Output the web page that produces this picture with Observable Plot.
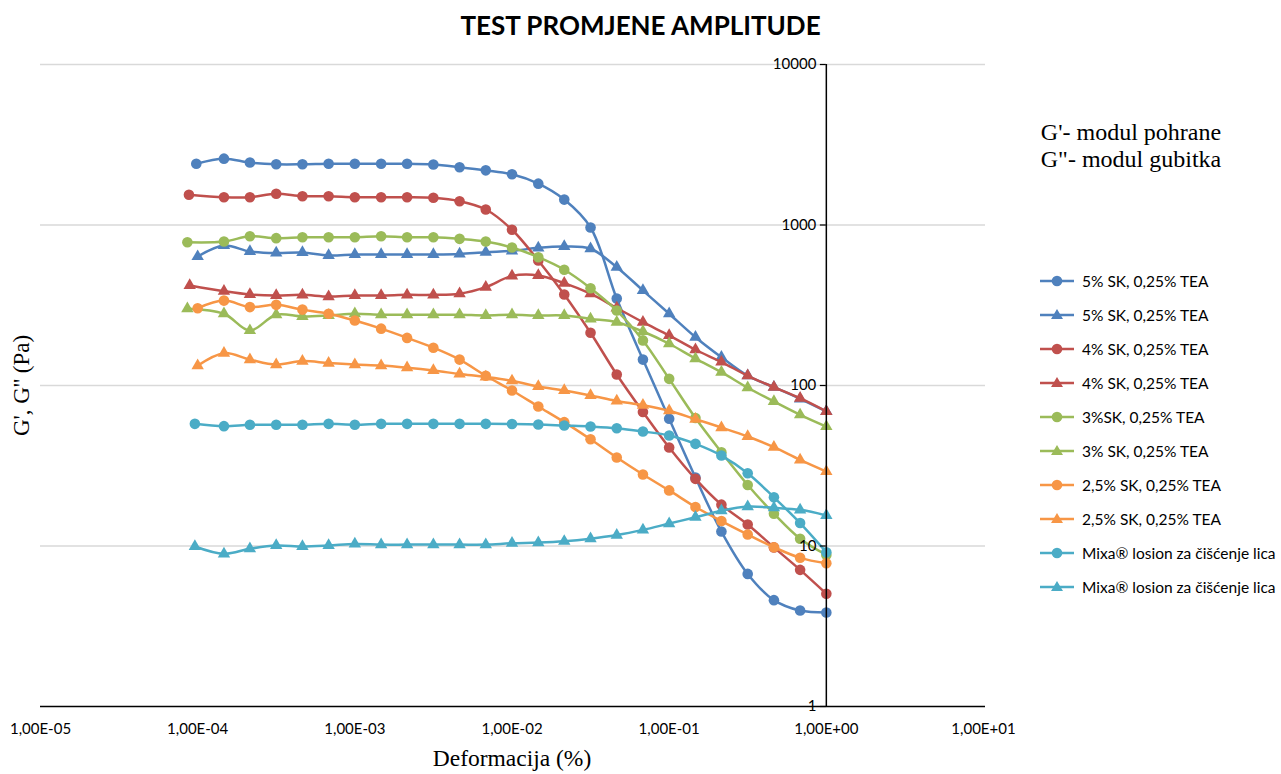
<!DOCTYPE html>
<html>
<head>
<meta charset="utf-8">
<script src="https://cdn.jsdelivr.net/npm/d3@7"></script>
<script src="https://cdn.jsdelivr.net/npm/@observablehq/plot@0.6"></script>
<style>
  body { margin: 0; background: #fff; }
  #wrap { position: relative; width: 1281px; height: 774px; overflow: hidden; background: #fff; }
  #title { position: absolute; left: 0; top: 0; width: 1281px; height: 50px; line-height: 50px; text-align: center;
           font-family: Lato, sans-serif; font-weight: bold; font-size: 26px; color: #000; }
  #chart { position: absolute; left: 0; top: 50px; }
  .note { position: absolute; left: 1011px; width: 240px; text-align: center; font-family: "Liberation Serif", serif; font-size: 24px; color: #000; line-height: 27px; }
  .leg { position: absolute; left: 1040px; height: 20px; line-height: 20px; font-family: Lato, sans-serif; font-size: 15.5px; color: #000; white-space: nowrap; display: flex; align-items: center; }
  .leg svg { margin-right: 8px; }
</style>
</head>
<body>
<div id="wrap">
  <div id="title"></div>
  <div id="chart"></div>
</div>
<script>
// ---------- data ----------
const titleText = "TEST PROMJENE AMPLITUDE";
const xLabel = "Deformacija (%)";
const yLabel = "G', G'' (Pa)";
const notes = ["G'- modul pohrane", "G\"- modul gubitka"];

const xTicks = [1e-5, 1e-4, 1e-3, 1e-2, 1e-1, 1, 10];
const yTicks = [1, 10, 100, 1000, 10000];

const strain = [0.0001, 0.000147, 0.000215, 0.000316, 0.000464, 0.000681, 0.001, 0.00147, 0.00215, 0.00316,
                0.00464, 0.00681, 0.01, 0.0147, 0.0215, 0.0316, 0.0464, 0.0681, 0.1, 0.147,
                0.215, 0.316, 0.464, 0.681, 1];
const firstStrain = [0.000098, 0.0001, 0.000088, 0.000089, 0.000086, 0.000086, 0.0001, 0.0001, 0.000096, 0.000096];

const seriesNames = ["5% SK, 0,25% TEA", "5% SK, 0,25% TEA", "4% SK, 0,25% TEA", "4% SK, 0,25% TEA",
                     "3%SK, 0,25% TEA", "3% SK, 0,25% TEA", "2,5% SK, 0,25% TEA", "2,5% SK, 0,25% TEA",
                     "Mixa® losion za čišćenje lica", "Mixa® losion za čišćenje lica"];
const seriesColors = ["#4F81BD", "#4F81BD", "#C0504D", "#C0504D", "#9BBB59", "#9BBB59", "#F79646", "#F79646", "#4BACC6", "#4BACC6"];
const seriesSymbols = ["circle", "triangle", "circle", "triangle", "circle", "triangle", "circle", "triangle", "circle", "triangle"];

const sk5G1 = [2410, 2590, 2450, 2390, 2390, 2410, 2410, 2410, 2410, 2380, 2290, 2190, 2070, 1810, 1440, 965, 348, 145, 62, 26.7, 12.3, 6.7, 4.6, 3.96, 3.85];
const sk5G2 = [636, 745, 684, 669, 674, 646, 655, 655, 655, 655, 660, 677, 689, 721, 735, 711, 546, 391, 280, 200, 150, 115, 97.6, 82.6, 68.9];
const sk4G1 = [1543, 1490, 1490, 1565, 1511, 1511, 1490, 1490, 1490, 1477, 1407, 1249, 934, 601, 369, 213, 117, 68.4, 41.1, 26.2, 18.1, 13.6, 9.8, 7.1, 5.04];
const sk4G2 = [420, 387, 369, 364, 367, 358, 364, 364, 367, 367, 373, 410, 481, 485, 434, 373, 304, 248, 205, 167, 140, 115, 97.6, 83.3, 68.9];
const sk3G1 = [781, 789, 851, 828, 839, 839, 839, 851, 839, 839, 820, 789, 724, 630, 526, 404, 293, 191, 110, 62.7, 38.4, 24.0, 15.9, 11.1, 8.8];
const sk3G2 = [301, 280, 220, 276, 269, 273, 280, 276, 276, 276, 276, 273, 276, 273, 273, 260, 248, 217, 182, 147, 121, 96.8, 79.5, 65.7, 55.5];
const sk25G1 = [303, 338, 308, 318, 297, 280, 254, 226, 198, 172, 145, 115, 93.1, 74.0, 59.1, 46.2, 35.6, 27.9, 22.2, 17.5, 14.3, 11.8, 9.83, 8.44, 7.81];
const sk25G2 = [133, 159, 145, 135, 142, 138, 135, 133, 129, 124, 118, 113, 107, 98.6, 93.1, 86.6, 80.1, 75.4, 69.6, 61.7, 54.7, 48.1, 41.3, 34.4, 29.1];
const mixaG1 = [57.7, 55.8, 56.9, 56.9, 56.9, 57.7, 56.9, 57.7, 57.7, 57.7, 57.7, 57.7, 57.5, 57.1, 56.3, 55.5, 54.2, 51.7, 48.8, 43.3, 36.6, 28.4, 20.1, 13.9, 9.15];
const mixaG2 = [9.93, 8.94, 9.61, 10.07, 9.93, 10.07, 10.3, 10.2, 10.2, 10.2, 10.2, 10.2, 10.4, 10.5, 10.7, 11.1, 11.7, 12.6, 13.8, 15.1, 16.6, 17.6, 17.3, 16.8, 15.5];

const seriesValues = [sk5G1, sk5G2, sk4G1, sk4G2, sk3G1, sk3G2, sk25G1, sk25G2, mixaG1, mixaG2];

// ---------- build ----------
document.getElementById("title").textContent = titleText;

const fmtX = d => {
  const e = Math.round(Math.log10(d));
  return "1,00E" + (e < 0 ? "-" : "+") + String(Math.abs(e)).padStart(2, "0");
};

const seriesMarks = [];
seriesValues.forEach((vals, s) => {
  const rows = vals.map((v, i) => ({x: i === 0 ? firstStrain[s] : strain[i], y: v}));
  seriesMarks.push(Plot.line(rows, {x: "x", y: "y", stroke: seriesColors[s], strokeWidth: 2.5, curve: "catmull-rom"}));
  seriesMarks.push(Plot.dot(rows, {x: "x", y: "y", fill: seriesColors[s], stroke: "none",
    symbol: seriesSymbols[s], r: seriesSymbols[s] === "circle" ? 5.3 : 4.6}));
});

const chart = Plot.plot({
  width: 1281,
  height: 724,
  marginLeft: 40,
  marginRight: 298,
  marginTop: 14,
  marginBottom: 68,
  x: {type: "log", domain: [1e-5, 10]},
  y: {type: "log", domain: [1, 10000], axis: null},
  style: {background: "#fff", overflow: "visible"},
  marks: [
    Plot.ruleY(yTicks.filter(d => d > 1), {stroke: "#d9d9d9", strokeWidth: 1.3, insetRight: -2}),
    Plot.axisX(xTicks, {tickFormat: fmtX, tickSize: 0, tickPadding: 17, label: null,
      fontSize: 15, fontFamily: "Lato", fill: "#000"}),
    Plot.text([xLabel], {frameAnchor: "bottom", dy: 52, lineAnchor: "middle", textAnchor: "middle",
      fontFamily: "Liberation Serif", fontSize: 23.5, fill: "#000"}),
    Plot.text([yLabel], {frameAnchor: "left", dx: -19, rotate: -90, textAnchor: "middle", lineAnchor: "middle",
      fontFamily: "Liberation Serif", fontSize: 23, fill: "#000"}),
    ...seriesMarks,
    Plot.ruleY([1], {stroke: "#000", strokeWidth: 1.5, insetRight: -2}),
    Plot.ruleX([1], {y1: 1, y2: 10000, stroke: "#000", strokeWidth: 1.5}),
    Plot.ruleY(yTicks, {x1: 1, x2: 1, insetLeft: -6, stroke: "#000", strokeWidth: 1.2}),
    Plot.text(yTicks, {x: 1, y: d => d, text: d => String(d), dx: -10, textAnchor: "end",
      fontSize: 15, fontFamily: "Lato", fill: "#000"})
  ]
});
document.getElementById("chart").appendChild(chart);

// notes
const wrap = document.getElementById("wrap");
notes.forEach((t, i) => {
  const d = document.createElement("div");
  d.className = "note";
  d.style.top = (119 + i * 27) + "px";
  d.textContent = t;
  wrap.appendChild(d);
});

// legend
seriesNames.forEach((name, s) => {
  const d = document.createElement("div");
  d.className = "leg";
  d.style.top = (271 + s * 34) + "px";
  const marker = seriesSymbols[s] === "circle"
    ? `<circle cx="17" cy="10" r="5.3" fill="${seriesColors[s]}"/>`
    : `<path d="M17,4 L23,14 L11,14 Z" fill="${seriesColors[s]}"/>`;
  d.innerHTML = `<svg width="34" height="20"><line x1="0" x2="34" y1="10" y2="10" stroke="${seriesColors[s]}" stroke-width="2.5"/>${marker}</svg>`;
  const sp = document.createElement("span");
  sp.textContent = name;
  d.appendChild(sp);
  wrap.appendChild(d);
});
</script>
</body>
</html>
